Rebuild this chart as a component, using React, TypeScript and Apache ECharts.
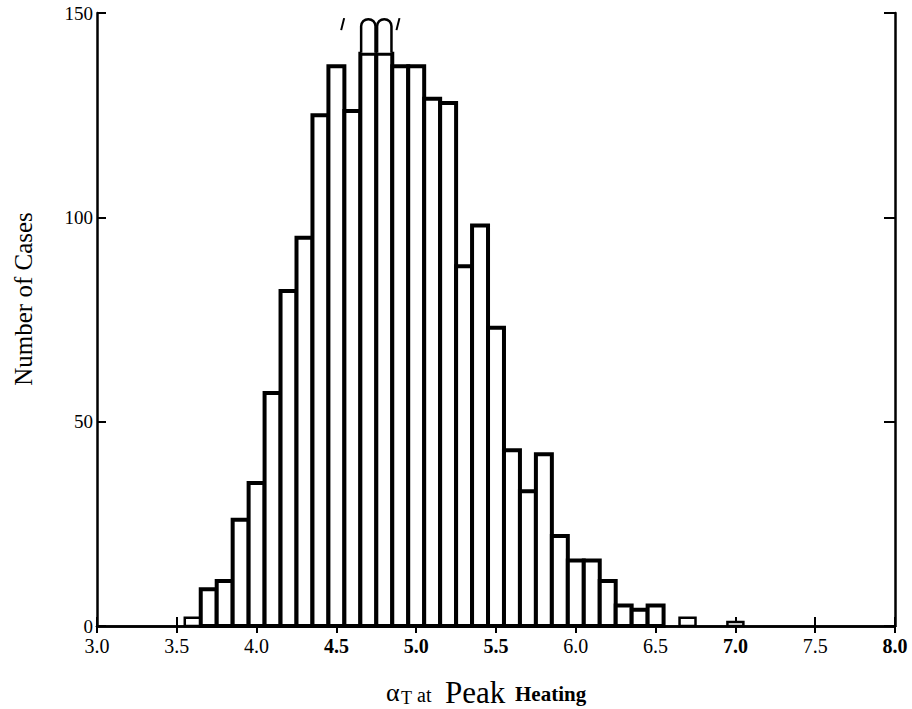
import React, { useEffect, useRef } from "react";
import * as echarts from "echarts";

// Histogram bins (centre of each 0.1-wide bin) and their counts
const binCenters = [
  3.6, 3.7, 3.8, 3.9, 4.0, 4.1, 4.2, 4.3, 4.4, 4.5,
  4.6, 4.7, 4.8, 4.9, 5.0, 5.1, 5.2, 5.3, 5.4, 5.5,
  5.6, 5.7, 5.8, 5.9, 6.0, 6.1, 6.2, 6.3, 6.4, 6.5,
  6.6, 6.7, 6.8, 6.9, 7.0,
];
const caseCounts = [
  2, 9, 11, 26, 35, 57, 82, 95, 125, 137,
  126, 140, 140, 137, 137, 129, 128, 88, 98, 73,
  43, 33, 42, 22, 16, 16, 11, 5, 4, 5,
  0, 2, 0, 0, 1,
];
// bins whose bars run past the drawn frame (shown as rounded tops)
const overflowBins = [4.7, 4.8];
const overflowTops = [148.5, 148.5];

const binWidth = 0.1;
const xTicks = [3.0, 3.5, 4.0, 4.5, 5.0, 5.5, 6.0, 6.5, 7.0, 7.5, 8.0];
const yTicks = [0, 50, 100, 150];
const boldXLabels = ["4.5", "5.0", "5.5", "7.0", "8.0"];

const FONT = "'Liberation Serif', 'DejaVu Serif', serif";

export default function App() {
  const ref = useRef<HTMLDivElement>(null);

  useEffect(() => {
    if (!ref.current) return;
    const chart = echarts.init(ref.current, undefined, { renderer: "svg" });

    const barData = binCenters.map((c, i) => [c, caseCounts[i]]);
    const overflowData = overflowBins.map((c, i) => [
      c,
      caseCounts[binCenters.indexOf(c)],
      overflowTops[i],
      i,
    ]);

    const axisLine = { show: true, lineStyle: { color: "#000", width: 2.5 } };

    const option: any = {
      animation: false,
      backgroundColor: "#fff",
      textStyle: { fontFamily: FONT },
      grid: { left: 97, right: 17, top: 13, bottom: 83, containLabel: false },
      xAxis: [
        {
          type: "value",
          position: "bottom",
          min: xTicks[0],
          max: xTicks[xTicks.length - 1],
          interval: 0.5,
          axisLine,
          axisTick: { show: true, inside: true, length: 9, lineStyle: { color: "#000", width: 2 } },
          splitLine: { show: false },
          axisLabel: {
            margin: 10,
            color: "#000",
            fontFamily: FONT,
            fontSize: 20,
            formatter: (v: number) => {
              const s = v.toFixed(1);
              return boldXLabels.includes(s) ? `{b|${s}}` : `{n|${s}}`;
            },
            rich: {
              n: { fontFamily: FONT, fontSize: 20, color: "#000" },
              b: { fontFamily: FONT, fontSize: 20, fontWeight: "bold", color: "#000" },
            },
          },
        },
        {
          type: "value",
          position: "top",
          min: xTicks[0],
          max: xTicks[xTicks.length - 1],
          interval: 0.5,
          axisLine,
          axisTick: { show: true, inside: true, length: 7, lineStyle: { color: "#000", width: 2 } },
          axisLabel: { show: false },
          splitLine: { show: false },
        },
      ],
      yAxis: [
        {
          type: "value",
          position: "left",
          min: yTicks[0],
          max: yTicks[yTicks.length - 1],
          interval: 50,
          axisLine,
          axisTick: { show: true, inside: true, length: 9, lineStyle: { color: "#000", width: 2 } },
          splitLine: { show: false },
          axisLabel: { margin: 4, color: "#000", fontFamily: FONT, fontSize: 19 },
        },
        {
          type: "value",
          position: "right",
          min: yTicks[0],
          max: yTicks[yTicks.length - 1],
          interval: 50,
          axisLine,
          axisTick: { show: true, inside: true, length: 11, lineStyle: { color: "#000", width: 2 } },
          axisLabel: { show: false },
          splitLine: { show: false },
        },
      ],
      series: [
        {
          type: "custom",
          xAxisIndex: 0,
          yAxisIndex: 0,
          data: barData,
          encode: { x: 0, y: 1 },
          z: 2,
          renderItem: (params: any, api: any) => {
            const x = api.value(0);
            const y = api.value(1);
            if (!y) return { type: "group", children: [] };
            const p0 = api.coord([x - binWidth / 2, y]);
            const p1 = api.coord([x + binWidth / 2, 0]);
            const h = p1[1] - p0[1];
            return {
              type: "rect",
              shape: { x: p0[0], y: p0[1], width: p1[0] - p0[0], height: h },
              style: { fill: "#fff", stroke: "#000", lineWidth: h < 10 ? 2.5 : 4 },
            };
          },
        },
        {
          type: "custom",
          xAxisIndex: 0,
          yAxisIndex: 0,
          data: overflowData,
          encode: { x: 0, y: 2 },
          z: 3,
          renderItem: (params: any, api: any) => {
            const x = api.value(0);
            const base = api.value(1);
            const top = api.value(2);
            const idx = api.value(3);
            const pl = api.coord([x - 0.045, base]);
            const pr = api.coord([x + 0.045, top]);
            const xl = pl[0];
            const xr = pr[0];
            const yb = pl[1] - 1;
            const yt = pr[1];
            const r = (xr - xl) / 2;
            const d = `M${xl},${yb} L${xl},${yt + r} A${r},${r} 0 0 1 ${xr},${yt + r} L${xr},${yb}`;
            const children: any[] = [
              {
                type: "path",
                shape: { pathData: d },
                style: { fill: "#fff", stroke: "#000", lineWidth: 2.5 },
              },
            ];
            if (idx === 0) {
              children.push({
                type: "line",
                shape: { x1: xl - 20, y1: yt + 11, x2: xl - 17, y2: yt - 1 },
                style: { stroke: "#000", lineWidth: 2 },
              });
            }
            if (idx === overflowBins.length - 1) {
              children.push({
                type: "line",
                shape: { x1: xr + 5, y1: yt + 11, x2: xr + 8, y2: yt - 1 },
                style: { stroke: "#000", lineWidth: 2 },
              });
            }
            return { type: "group", children };
          },
        },
      ],
      graphic: [
        {
          type: "text",
          x: 23,
          y: 299,
          rotation: Math.PI / 2,
          style: {
            text: "Number of Cases",
            fontFamily: FONT,
            fontSize: 25,
            fill: "#000",
            align: "center",
            verticalAlign: "middle",
          },
        },
        {
          type: "text",
          x: 386,
          y: 692,
          style: { text: "α", fontFamily: FONT, fontSize: 26, fill: "#000", align: "left", verticalAlign: "middle" },
        },
        {
          type: "text",
          x: 401,
          y: 698,
          style: { text: "T", fontFamily: FONT, fontSize: 18, fill: "#000", align: "left", verticalAlign: "middle" },
        },
        {
          type: "text",
          x: 417,
          y: 695,
          style: { text: "at", fontFamily: FONT, fontSize: 20, fill: "#000", align: "left", verticalAlign: "middle" },
        },
        {
          type: "text",
          x: 445,
          y: 692,
          style: { text: "Peak", fontFamily: FONT, fontSize: 31, fill: "#000", align: "left", verticalAlign: "middle" },
        },
        {
          type: "text",
          x: 515,
          y: 694,
          style: {
            text: "Heating",
            fontFamily: FONT,
            fontSize: 21,
            fontWeight: "bold",
            fill: "#000",
            align: "left",
            verticalAlign: "middle",
          },
        },
      ],
    };

    chart.setOption(option);
    return () => chart.dispose();
  }, []);

  return (
    <div
      ref={ref}
      style={{ position: "absolute", left: 0, top: 0, width: 912, height: 709, background: "#fff" }}
    />
  );
}
